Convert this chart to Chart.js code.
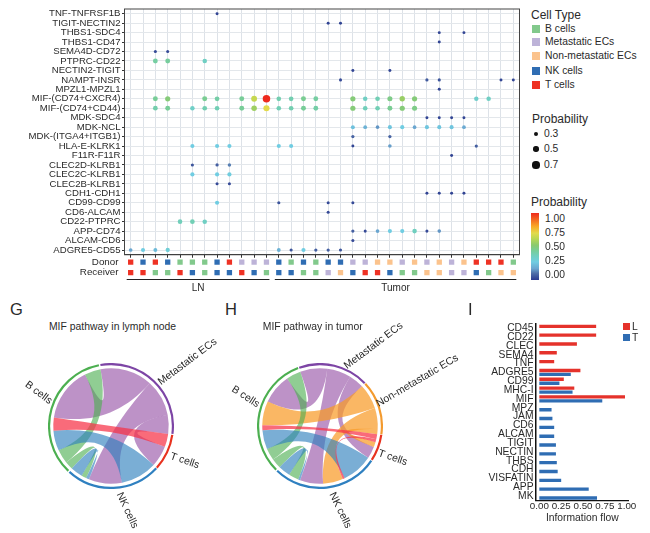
<!DOCTYPE html>
<html>
<head>
<meta charset="utf-8">
<script src="https://cdn.jsdelivr.net/npm/chart.js@4"></script>
<style>
    html, body { margin: 0; padding: 0; background: #fff; }
    body { width: 650px; height: 533px; position: relative; overflow: hidden; font-family: "Liberation Sans", Arial, sans-serif; color: #2a2a2a; }
    canvas { position: absolute; }
    .t { position: absolute; white-space: nowrap; line-height: 1; }
    .box { position: absolute; }
</style>
</head>
<body>
<canvas id="dots" style="left:0;top:0"></canvas>
<canvas id="strip" style="left:0;top:245px"></canvas>
<canvas id="chordLymph" style="left:48px;top:363px"></canvas>
<canvas id="chordTumor" style="left:257px;top:363px"></canvas>
<canvas id="flow" style="left:460px;top:315px"></canvas>
<script>
// dot plot rows, top to bottom
const pairs = ['TNF-TNFRSF1B', 'TIGIT-NECTIN2', 'THBS1-SDC4', 'THBS1-CD47', 'SEMA4D-CD72', 'PTPRC-CD22',
    'NECTIN2-TIGIT', 'NAMPT-INSR', 'MPZL1-MPZL1', 'MIF-(CD74+CXCR4)', 'MIF-(CD74+CD44)', 'MDK-SDC4', 'MDK-NCL',
    'MDK-(ITGA4+ITGB1)', 'HLA-E-KLRK1', 'F11R-F11R', 'CLEC2D-KLRB1', 'CLEC2C-KLRB1', 'CLEC2B-KLRB1', 'CDH1-CDH1',
    'CD99-CD99', 'CD6-ALCAM', 'CD22-PTPRC', 'APP-CD74', 'ALCAM-CD6', 'ADGRE5-CD55']

const donors = ['T', 'NK', 'T', 'NK', 'B', 'B', 'B', 'NK', 'T', 'Met', 'Met', 'Met',
    'NK', 'B', 'NK', 'B', 'NK', 'NK', 'Met', 'Met', 'Non', 'Non', 'Met', 'Non', 'Met', 'Non', 'Met', 'Non', 'T', 'T', 'T', 'B']
const receivers = ['T', 'T', 'B', 'B', 'T', 'NK', 'B', 'NK', 'NK', 'T', 'NK', 'B',
    'NK', 'NK', 'B', 'B', 'Met', 'Non', 'NK', 'T', 'T', 'NK', 'B', 'B', 'Non', 'Non', 'Met', 'Met', 'NK', 'B', 'Non', 'Non']

// [row name, column number, probability]
const dotValues = [
    ['TNF-TNFRSF1B', 8, 0.02],
    ['TIGIT-NECTIN2', 17, 0.02], ['TIGIT-NECTIN2', 18, 0.02],
    ['THBS1-SDC4', 26, 0.02], ['THBS1-SDC4', 28, 0.02],
    ['THBS1-CD47', 26, 0.02],
    ['SEMA4D-CD72', 3, 0.03], ['SEMA4D-CD72', 4, 0.03],
    ['PTPRC-CD22', 3, 0.42], ['PTPRC-CD22', 4, 0.43], ['PTPRC-CD22', 7, 0.35],
    ['NECTIN2-TIGIT', 19, 0.02], ['NECTIN2-TIGIT', 22, 0.02],
    ['NAMPT-INSR', 18, 0.03], ['NAMPT-INSR', 25, 0.06], ['NAMPT-INSR', 26, 0.05], ['NAMPT-INSR', 31, 0.02], ['NAMPT-INSR', 32, 0.02],
    ['MPZL1-MPZL1', 26, 0.02],
    ['MIF-(CD74+CXCR4)', 3, 0.44], ['MIF-(CD74+CXCR4)', 4, 0.5], ['MIF-(CD74+CXCR4)', 7, 0.45], ['MIF-(CD74+CXCR4)', 8, 0.41],
    ['MIF-(CD74+CXCR4)', 10, 0.44], ['MIF-(CD74+CXCR4)', 11, 0.64], ['MIF-(CD74+CXCR4)', 12, 1], ['MIF-(CD74+CXCR4)', 13, 0.39],
    ['MIF-(CD74+CXCR4)', 14, 0.39], ['MIF-(CD74+CXCR4)', 15, 0.45], ['MIF-(CD74+CXCR4)', 16, 0.42], ['MIF-(CD74+CXCR4)', 19, 0.5],
    ['MIF-(CD74+CXCR4)', 20, 0.35], ['MIF-(CD74+CXCR4)', 21, 0.38], ['MIF-(CD74+CXCR4)', 22, 0.47], ['MIF-(CD74+CXCR4)', 23, 0.55],
    ['MIF-(CD74+CXCR4)', 24, 0.5], ['MIF-(CD74+CXCR4)', 29, 0.33], ['MIF-(CD74+CXCR4)', 30, 0.35],
    ['MIF-(CD74+CD44)', 3, 0.4], ['MIF-(CD74+CD44)', 4, 0.44], ['MIF-(CD74+CD44)', 6, 0.34], ['MIF-(CD74+CD44)', 7, 0.39],
    ['MIF-(CD74+CD44)', 8, 0.38], ['MIF-(CD74+CD44)', 10, 0.44], ['MIF-(CD74+CD44)', 11, 0.56], ['MIF-(CD74+CD44)', 12, 0.7],
    ['MIF-(CD74+CD44)', 13, 0.38], ['MIF-(CD74+CD44)', 14, 0.39], ['MIF-(CD74+CD44)', 15, 0.44], ['MIF-(CD74+CD44)', 16, 0.41],
    ['MIF-(CD74+CD44)', 19, 0.5], ['MIF-(CD74+CD44)', 20, 0.37], ['MIF-(CD74+CD44)', 21, 0.38], ['MIF-(CD74+CD44)', 22, 0.45],
    ['MIF-(CD74+CD44)', 23, 0.5], ['MIF-(CD74+CD44)', 24, 0.47],
    ['MDK-SDC4', 25, 0.02], ['MDK-SDC4', 26, 0.02], ['MDK-SDC4', 27, 0.02], ['MDK-SDC4', 28, 0.02],
    ['MDK-NCL', 19, 0.24], ['MDK-NCL', 20, 0.2], ['MDK-NCL', 21, 0.15], ['MDK-NCL', 22, 0.25], ['MDK-NCL', 23, 0.27],
    ['MDK-NCL', 24, 0.17], ['MDK-NCL', 25, 0.25], ['MDK-NCL', 26, 0.25], ['MDK-NCL', 27, 0.25], ['MDK-NCL', 28, 0.18],
    ['MDK-(ITGA4+ITGB1)', 19, 0.08], ['MDK-(ITGA4+ITGB1)', 22, 0.08],
    ['HLA-E-KLRK1', 6, 0.27], ['HLA-E-KLRK1', 8, 0.27], ['HLA-E-KLRK1', 9, 0.27], ['HLA-E-KLRK1', 13, 0.27], ['HLA-E-KLRK1', 14, 0.27],
    ['HLA-E-KLRK1', 19, 0.02], ['HLA-E-KLRK1', 22, 0.16], ['HLA-E-KLRK1', 29, 0.07],
    ['F11R-F11R', 27, 0.02],
    ['CLEC2D-KLRB1', 6, 0.05], ['CLEC2D-KLRB1', 8, 0.07], ['CLEC2D-KLRB1', 9, 0.12],
    ['CLEC2C-KLRB1', 6, 0.27], ['CLEC2C-KLRB1', 8, 0.27], ['CLEC2C-KLRB1', 9, 0.28],
    ['CLEC2B-KLRB1', 8, 0.03], ['CLEC2B-KLRB1', 9, 0.03],
    ['CDH1-CDH1', 25, 0.02], ['CDH1-CDH1', 26, 0.02], ['CDH1-CDH1', 27, 0.02], ['CDH1-CDH1', 28, 0.02],
    ['CD99-CD99', 8, 0.27], ['CD99-CD99', 13, 0.05], ['CD99-CD99', 17, 0.03], ['CD99-CD99', 19, 0.03],
    ['CD6-ALCAM', 17, 0.03],
    ['CD22-PTPRC', 5, 0.37], ['CD22-PTPRC', 6, 0.38], ['CD22-PTPRC', 7, 0.35],
    ['APP-CD74', 19, 0.07], ['APP-CD74', 20, 0.03], ['APP-CD74', 21, 0.17], ['APP-CD74', 22, 0.27], ['APP-CD74', 23, 0.27],
    ['APP-CD74', 24, 0.36], ['APP-CD74', 25, 0.03], ['APP-CD74', 26, 0.15],
    ['ALCAM-CD6', 19, 0.03],
    ['ADGRE5-CD55', 1, 0.17], ['ADGRE5-CD55', 2, 0.27], ['ADGRE5-CD55', 3, 0.22], ['ADGRE5-CD55', 4, 0.3], ['ADGRE5-CD55', 13, 0.2],
    ['ADGRE5-CD55', 14, 0.05], ['ADGRE5-CD55', 15, 0.27], ['ADGRE5-CD55', 16, 0.07], ['ADGRE5-CD55', 17, 0.07], ['ADGRE5-CD55', 18, 0.05]
]

// chord panels: each sector lists its ribbon ends clockwise, weight of each end
const lymphSectors = ['Met', 'T', 'NK', 'B']
const lymphMet = [['Met-B', 52], ['Met-NK', 36], ['Met-T', 19]]
const lymphT = [['T-B', 13], ['Met-T', 21]]
const lymphNK = [['NK-B', 36], ['Met-NK', 33], ['NK-NK', 3], ['B-NK', 5], ['NK-NK', 12]]
const lymphB = [['B-NK', 8], ['B-B', 14], ['NK-B', 20], ['T-B', 13], ['Met-B', 54], ['B-B', 16]]

const tumorSectors = ['Met', 'Non', 'T', 'NK', 'B']
const tumorMet = [['Met-B', 27], ['Met-NK', 24], ['Met-T', 15]]
const tumorNon = [['Non-B', 25], ['Non-NK', 21], ['Non-T', 5]]
const tumorT = [['T-B', 5], ['T-NK', 3], ['Non-T', 5], ['Met-T', 12]]
const tumorNK = [['NK-B', 31], ['T-NK', 2], ['Non-NK', 20], ['Met-NK', 23], ['NK-NK', 2], ['B-NK', 10], ['NK-NK', 12]]
const tumorB = [['B-NK', 10], ['B-B', 12], ['NK-B', 19], ['T-B', 5], ['Non-B', 24], ['Met-B', 30], ['B-B', 14.5]]

// information flow bars
const flowCategories = ['CD45', 'CD22', 'CLEC', 'SEMA4', 'TNF', 'ADGRE5', 'CD99', 'MHC-I', 'MIF', 'MPZ', 'JAM', 'CD6', 'ALCAM',
    'TIGIT', 'NECTIN', 'THBS', 'CDH', 'VISFATIN', 'APP', 'MK']
const flowL = [0.65, 0.65, 0.43, 0.20, 0.17, 0.47, 0.28, 0.40, 0.98, null, null, null, null, null, null, null, null, null, null, null]
const flowT = [null, null, null, null, null, 0.36, 0.23, 0.38, 0.72, 0.14, 0.15, 0.17, 0.17, 0.19, 0.19, 0.20, 0.21, 0.25, 0.565, 0.66]
const flowTicks = [0, 0.25, 0.5, 0.75, 1]

const font = '"Liberation Sans", Arial, sans-serif'
const textColor = '#2a2a2a'
const cellColors = { B: '#82c98c', Met: '#bdb3d8', Non: '#fbc38d', NK: '#2f6db3', T: '#ee3224' }
const ringColors = { B: '#4caf50', Met: '#7d45a5', Non: '#f39a2e', NK: '#2f80c0', T: '#e8321f' }
const ribbonColors = { B: 'rgba(76,175,80,0.62)', Met: 'rgba(155,89,170,0.66)', Non: 'rgba(248,155,40,0.72)', NK: 'rgba(47,128,190,0.64)', T: 'rgba(246,50,70,0.72)' }
const probStops = [[0, '#2b3a8f'], [0.1, '#4f6fa8'], [0.17, '#6aa6d0'], [0.27, '#70cde2'], [0.36, '#70cfbf'], [0.44, '#78cd98'],
    [0.52, '#8aca6e'], [0.62, '#bcd752'], [0.7, '#e3da4b'], [0.8, '#f9a825'], [1, '#ee2a1e']]

function hexToRgb(hex) {
    return [1, 3, 5].map((i) => parseInt(hex.slice(i, i + 2), 16))
}

function probColor(p) {
    for (let i = 1; i < probStops.length; i++) {
        if (p <= probStops[i][0]) {
            const [p0, c0] = probStops[i - 1]
            const [p1, c1] = probStops[i]
            const f = (p - p0) / (p1 - p0)
            const a = hexToRgb(c0)
            const b = hexToRgb(c1)
            return 'rgb(' + a.map((v, k) => Math.round(v + (b[k] - v) * f)).join(',') + ')'
        }
    }
    return probStops[probStops.length - 1][1]
}

function dotRadius(p) {
    return 1.45 + 2.3 * p
}

function addText(text, x, y, size, opts = {}) {
    const el = document.createElement('div')
    el.className = 't'
    el.textContent = text
    el.style.left = x + 'px'
    el.style.top = y + 'px'
    el.style.fontSize = size + 'px'
    const tx = opts.center ? '-50%' : '0'
    el.style.transform = 'translate(' + tx + ',-50%) rotate(' + (opts.rot || 0) + 'deg)'
    document.body.appendChild(el)
}

function addBox(x, y, w, h, css) {
    const el = document.createElement('div')
    el.className = 'box'
    el.style.cssText = 'left:' + x + 'px;top:' + y + 'px;width:' + w + 'px;height:' + h + 'px;' + css
    document.body.appendChild(el)
}

Chart.defaults.font.family = font
Chart.defaults.color = textColor
Chart.defaults.animation = false
Chart.defaults.responsive = false

const columns = donors.map((d, i) => 'c' + (i + 1))

function sizeCanvas(id, w, h) {
    const c = document.getElementById(id)
    c.width = w
    c.height = h
    c.style.width = w + 'px'
    c.style.height = h + 'px'
    return c
}

// dot plot
new Chart(sizeCanvas('dots', 530, 262), {
    type: 'bubble',
    data: {
        datasets: [{
            data: dotValues.map((d) => ({ x: 'c' + d[1], y: d[0], r: dotRadius(d[2]) })),
            backgroundColor: dotValues.map((d) => probColor(d[2])),
            borderWidth: 0
        }]
    },
    options: {
        layout: { padding: { top: 9, right: 10.5, bottom: 3.6, left: 0 } },
        plugins: { legend: { display: false }, tooltip: { enabled: false } },
        scales: {
            x: {
                type: 'category',
                labels: columns,
                offset: true,
                afterFit: (s) => { s.height = 3.5 },
                grid: { color: '#dde2e8', lineWidth: 1, tickLength: 3, tickColor: '#333' },
                border: { color: '#333', width: 1 },
                ticks: { display: false, autoSkip: false }
            },
            y: {
                type: 'category',
                labels: pairs,
                offset: true,
                afterFit: (s) => { s.width = 124.5 },
                grid: { color: '#e3e7eb', lineWidth: 1, tickLength: 2.5, tickColor: '#333' },
                border: { color: '#333', width: 1 },
                ticks: { autoSkip: false, padding: 1.5, color: textColor, font: { size: 9.6 } }
            }
        }
    },
    plugins: [{
        id: 'frame',
        afterDraw(chart) {
            const a = chart.chartArea
            const ctx = chart.ctx
            ctx.save()
            ctx.strokeStyle = '#444'
            ctx.lineWidth = 1
            ctx.strokeRect(a.left, a.top, a.width, a.height)
            ctx.restore()
        }
    }]
})

// donor and receiver squares with LN / Tumor brackets
const stripRows = ['Donor', 'Receiver']
new Chart(sizeCanvas('strip', 530, 53), {
    type: 'scatter',
    data: {
        datasets: [{
            data: donors.map((d, i) => ({ x: columns[i], y: 'Donor' })).concat(receivers.map((d, i) => ({ x: columns[i], y: 'Receiver' }))),
            pointStyle: 'rect',
            pointRadius: 3.75,
            pointBorderWidth: 0,
            pointBackgroundColor: donors.concat(receivers).map((c) => cellColors[c])
        }]
    },
    options: {
        layout: { padding: { top: 7, right: 10.5, bottom: 20, left: 0 } },
        plugins: { legend: { display: false }, tooltip: { enabled: false } },
        scales: {
            x: {
                type: 'category',
                labels: columns,
                offset: true,
                display: false
            },
            y: {
                type: 'category',
                labels: stripRows,
                offset: true,
                afterFit: (s) => { s.width = 124.5 },
                grid: { display: false, drawTicks: false },
                border: { display: false },
                ticks: { autoSkip: false, padding: 6, color: textColor, font: { size: 9.8 } }
            }
        }
    },
    plugins: [{
        id: 'brackets',
        afterDraw(chart) {
            const x = chart.scales.x
            const ctx = chart.ctx
            const spans = [['LN', 0, 11], ['Tumor', 12, 31]]
            ctx.save()
            spans.forEach(([name, a, b]) => {
                const x0 = x.getPixelForValue(a) - 4
                const x1 = x.getPixelForValue(b) + 3
                ctx.strokeStyle = '#222'
                ctx.lineWidth = 1
                ctx.beginPath()
                ctx.moveTo(x0, 34.5)
                ctx.lineTo(x1, 34.5)
                ctx.stroke()
                ctx.fillStyle = textColor
                ctx.font = '10px ' + font
                ctx.textAlign = 'center'
                ctx.textBaseline = 'middle'
                ctx.fillText(name, (x0 + x1) / 2, 43)
            })
            ctx.restore()
        }
    }]
})

// doughnut ring + ribbons drawn from the arc angles of the ring
function drawChord(id, sectors, ends, rotation, ribbonOrder) {
    const totals = ends.map((list) => list.reduce((sum, e) => sum + e[1], 0))
    new Chart(sizeCanvas(id, 126, 126), {
        type: 'doughnut',
        data: {
            labels: sectors,
            datasets: [{
                data: totals,
                backgroundColor: sectors.map((s) => ringColors[s]),
                borderWidth: 0,
                spacing: 1.5
            }]
        },
        options: {
            rotation: rotation,
            cutout: '96.5%',
            plugins: { legend: { display: false }, tooltip: { enabled: false } }
        },
        plugins: [{
            id: 'ribbons',
            afterDatasetsDraw(chart) {
                const arcs = chart.getDatasetMeta(0).data
                const links = {}
                ends.forEach((list, s) => {
                    let cum = 0
                    const span = arcs[s].endAngle - arcs[s].startAngle
                    list.forEach(([name, w]) => {
                        const a0 = arcs[s].startAngle + span * cum / totals[s]
                        const a1 = arcs[s].startAngle + span * (cum + w) / totals[s]
                        cum += w
                        if (!links[name]) links[name] = []
                        links[name].push([a0, a1])
                    })
                })
                const cx = arcs[0].x
                const cy = arcs[0].y
                const r = arcs[0].outerRadius - 4.5
                const pull = 0.3 * r // how far the edges stay out from the centre
                const px = (a, d) => cx + d * Math.cos(a)
                const py = (a, d) => cy + d * Math.sin(a)
                const ctx = chart.ctx
                ctx.save()
                ribbonOrder.forEach((name) => {
                    const [a, b] = links[name]
                    ctx.beginPath()
                    ctx.moveTo(px(a[0], r), py(a[0], r))
                    ctx.arc(cx, cy, r, a[0], a[1])
                    ctx.bezierCurveTo(px(a[1], pull), py(a[1], pull), px(b[0], pull), py(b[0], pull), px(b[0], r), py(b[0], r))
                    ctx.arc(cx, cy, r, b[0], b[1])
                    ctx.bezierCurveTo(px(b[1], pull), py(b[1], pull), px(a[0], pull), py(a[0], pull), px(a[0], r), py(a[0], r))
                    ctx.closePath()
                    ctx.fillStyle = ribbonColors[name.split('-')[0]]
                    ctx.fill()
                })
                ctx.restore()
            }
        }]
    })
}

drawChord('chordLymph', lymphSectors, [lymphMet, lymphT, lymphNK, lymphB], -10.5,
    ['Met-B', 'Met-NK', 'Met-T', 'B-B', 'B-NK', 'NK-NK', 'NK-B', 'T-B'])
drawChord('chordTumor', tumorSectors, [tumorMet, tumorNon, tumorT, tumorNK, tumorB], -20,
    ['Met-B', 'Met-NK', 'Met-T', 'Non-B', 'Non-NK', 'Non-T', 'B-B', 'B-NK', 'NK-NK', 'NK-B', 'T-NK', 'T-B'])

// information flow
new Chart(sizeCanvas('flow', 190, 218), {
    type: 'bar',
    data: {
        labels: flowCategories,
        datasets: [
            { label: 'L', data: flowL, backgroundColor: '#e5322b', categoryPercentage: 0.9, barPercentage: 0.85 },
            { label: 'T', data: flowT, backgroundColor: '#2f6db3', categoryPercentage: 0.9, barPercentage: 0.85 }
        ]
    },
    options: {
        indexAxis: 'y',
        layout: { padding: { top: 8.9, right: 21.5, bottom: 8.6, left: 0 } },
        plugins: { legend: { display: false }, tooltip: { enabled: false } },
        scales: {
            x: {
                min: -0.038,
                max: 1.02,
                afterBuildTicks: (s) => { s.ticks = flowTicks.map((v) => ({ value: v })) },
                afterFit: (s) => { s.height = 24 },
                grid: { display: false, drawTicks: false },
                border: { color: '#111', width: 1.2 },
                ticks: {
                    autoSkip: false,
                    maxRotation: 0,
                    padding: 0,
                    color: textColor,
                    font: { size: 9.8 },
                    callback: (v) => v.toFixed(2)
                },
                title: { display: true, text: 'Information flow', color: textColor, font: { size: 10.3 }, padding: { top: 2, bottom: 0 } }
            },
            y: {
                afterFit: (s) => { s.width = 76 },
                grid: { display: false, tickLength: 2, tickColor: '#222' },
                border: { color: '#111', width: 1.5 },
                ticks: { autoSkip: false, padding: 0.5, color: textColor, font: { size: 10.3 } }
            }
        }
    }
})

// cell type legend
addText('Cell Type', 531, 14.5, 12)
const legendNames = [['B cells', 'B', 28.5], ['Metastatic ECs', 'Met', 41.5], ['Non-metastatic ECs', 'Non', 56], ['NK cells', 'NK', 70.5], ['T cells', 'T', 85]]
legendNames.forEach(([name, key, y]) => {
    addBox(532, y - 4, 8, 8, 'background:' + cellColors[key])
    addText(name, 545, y, 10.3)
})

// size legend
addText('Probability', 532, 119, 12)
const sizeLegend = [[0.3, 133.5, 2], [0.5, 149, 2.7], [0.7, 165, 3.6]]
sizeLegend.forEach(([v, y, r]) => {
    addBox(536 - r, y - r, 2 * r, 2 * r, 'background:#111;border-radius:50%')
    addText(v.toFixed(1), 544, y, 10.3)
})

// colour legend
addText('Probability', 531, 202, 12)
const barStops = probStops.map(([p, c]) => c + ' ' + (p * 100) + '%').join(',')
addBox(531, 213, 8, 67, 'background:linear-gradient(to top,' + barStops + ')')
const barTicks = [[1, 218.7], [0.75, 232.5], [0.5, 246.5], [0.25, 260.5], [0, 275]]
barTicks.forEach(([v, y]) => addText(v.toFixed(2), 545, y, 10.3))

// panel letters and titles
addText('G', 10, 309, 16.5)
addText('H', 225, 309, 16.5)
addText('I', 468, 309, 16.5)
addText('MIF pathway in lymph node', 112.5, 327, 10.4, { center: true })
addText('MIF pathway in tumor', 312.7, 327, 10.4, { center: true })

// sector labels
addText('B cells', 39, 392, 10.5, { center: true, rot: 37 })
addText('Metastatic ECs', 186.7, 361, 10.5, { center: true, rot: -37 })
addText('T cells', 185.3, 460, 10.5, { center: true, rot: 19 })
addText('NK cells', 128, 510.3, 10.5, { center: true, rot: 65 })
addText('B cells', 245.7, 396.3, 10.5, { center: true, rot: 33 })
addText('Metastatic ECs', 373, 345, 10.5, { center: true, rot: -37 })
addText('Non-metastatic ECs', 417, 380, 10.5, { center: true, rot: -30.5 })
addText('T cells', 393.3, 456.7, 10.5, { center: true, rot: 19 })
addText('NK cells', 341, 510.3, 10.5, { center: true, rot: 64 })

// L / T legend
addBox(623.3, 322.5, 7, 7, 'background:#e5322b')
addBox(623.3, 333.5, 7, 7, 'background:#2f6db3')
addText('L', 632, 326.5, 10.3)
addText('T', 632, 337.5, 10.3)
</script>
</body>
</html>
